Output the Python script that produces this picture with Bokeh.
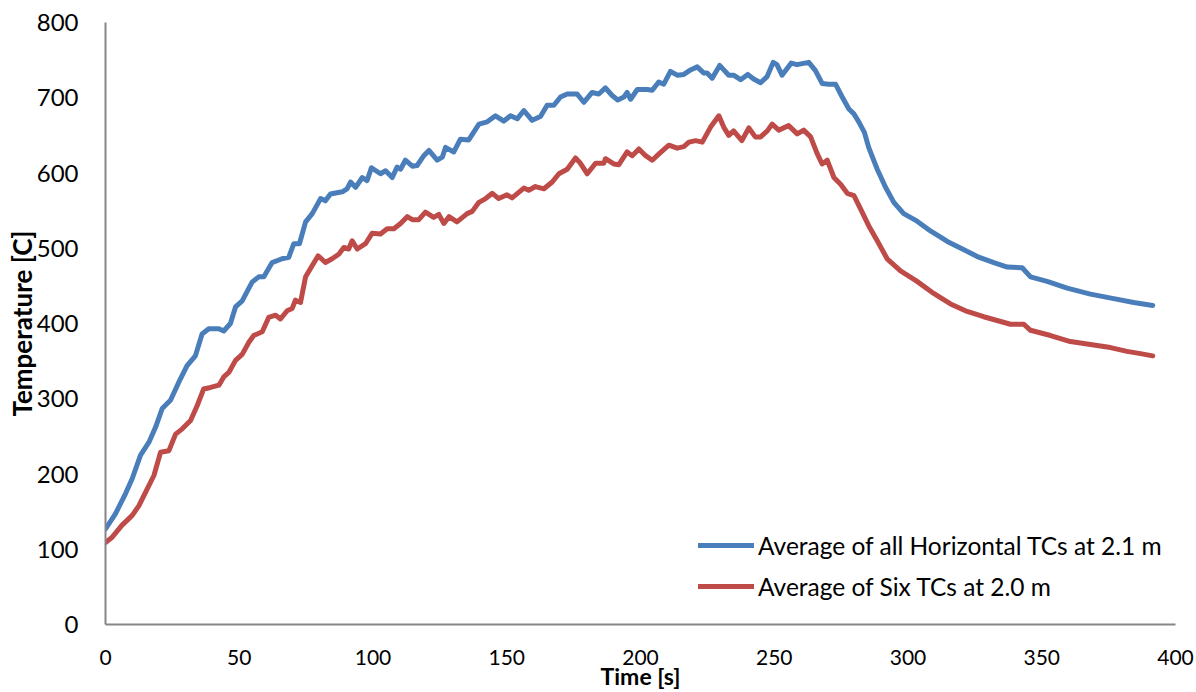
from bokeh.plotting import figure
from bokeh.models import Range1d, Legend, LegendItem, FixedTicker
from bokeh.embed import file_html
from bokeh.resources import INLINE

# Average of all horizontal thermocouples at 2.1 m
time_horizontal = [
    0, 3.7, 7.5, 10, 13.1, 16.2, 18.7, 21.2, 24.3, 27.4, 30.5, 33.6, 36.1, 38.6,
    42.4, 44.2, 46.7, 48.6, 51.1, 54.8, 57.3, 59.2, 62.3, 66, 68.5, 70.4, 72.5,
    74.8, 77.3, 80.4, 82.2, 84.1, 88.5, 90.3, 91.6, 93.5, 96, 97.8, 99.4,
    102.8, 104.7, 107.2, 109, 110.3, 112.1, 114.7, 116.5, 119, 120.9, 124, 125.9,
    127.1, 130.2, 132.7, 135.8, 139.6, 142.7, 145.8, 148.9, 151.4, 153.9, 156.4,
    159.5, 162.6, 165.1, 167.6, 170.1, 172.6, 176.3, 178.8, 181.9, 184.4, 186.9,
    189.4, 191.5, 193.8, 195, 196.3, 198.8, 202.5, 204.4, 206.8,
    208.7, 211.2, 213.7, 216.2, 218.7, 221.2, 223.6, 224.9, 226.8, 229.6, 233,
    234.8, 237.4, 240.1, 242.3, 244.9, 247.3, 249.6, 251, 252.9, 256.3, 258.5,
    262.9, 265.4, 267.9, 270.4, 272.9, 275.4, 277.9, 279.7, 281.6, 283.7, 285.3,
    288.5, 291.6, 294.7, 298.4, 303.4, 308.4, 314.7, 320.9, 325.9, 332.1, 337.1,
    342.7, 345.8, 352, 359.5, 368.2, 376.9, 384.4, 391.5,
]
temp_horizontal = [
    127, 147, 174, 194, 225, 242, 262, 287, 298, 322, 344, 357, 386, 393,
    393, 390, 400, 422, 430, 455, 462, 462, 481, 486, 488, 506, 506,
    535, 546, 566, 563, 572, 575, 579, 588, 581, 594, 590, 607,
    599, 603, 594, 608, 605, 617, 609, 610, 623, 630, 617, 621,
    634, 628, 645, 644, 665, 668, 676, 669, 676, 672, 683,
    670, 675, 690, 690, 701, 705, 705, 694, 707, 705, 713,
    703, 697, 701, 707, 698, 711, 711, 710, 721,
    718, 735, 730, 731, 737, 741, 733, 733, 726, 743, 730,
    730, 724, 731, 725, 720, 728, 747, 744, 730, 746, 744,
    747, 736, 719, 718, 718, 701, 685, 679, 668, 654, 634,
    605, 581, 561, 546, 536, 523, 509, 498, 489, 481, 475,
    474, 462, 456, 447, 439, 433, 428, 424,
]

# Average of six thermocouples at 2.0 m
time_six = [
    0, 2.5, 6.2, 10, 12.5, 15, 18.1, 20.6, 23.7, 26.2, 28.7, 31.8, 34.3, 36.7,
    39.3, 42.4, 44.2, 46.1, 48.6, 51.1, 53.6, 55.4, 58.6, 61, 63.6, 65.4, 67.9,
    69.8, 71, 72.9, 74.8, 77.3, 79.5, 82.2, 84.7, 87.2, 89.1, 90.9, 92.2, 94.1,
    97.2, 99.7,
    102.8, 105.3, 107.8, 110.3, 112.8, 114.7, 117.1, 119.6, 122.7, 124.6, 126.5,
    128.4, 131.4, 135.2, 137.1, 139.6, 142.1, 144.6, 147, 150.1, 152, 156.4,
    158.2, 160.7, 163.9, 167, 169.5, 172.6, 175.7, 177.3, 180.1, 183.2, 186.3,
    186.9, 190, 191.9, 195, 196.9, 199.4, 201.9, 204.4, 206.8,
    210.6, 213.7, 216.2, 218.1, 220.6, 223.1, 226.2, 229.3, 231.1, 233, 234.8,
    237.9, 240.5, 242.9, 244.9, 247.4, 249.2, 251.7, 255.4, 258.6, 261, 263.6,
    266, 267.9, 269.8, 272.3, 274.8, 277.3, 279.8, 282.3,
    285.3, 288.5, 292.2, 297.2, 303.4, 309.6, 315.9, 322.1, 328.3, 333.3, 338.3,
    343.3, 345.8, 353.3, 360.7, 368.2, 375.7, 381.9, 386.9, 391.5,
]
temp_six = [
    109, 116, 132, 145, 158, 176, 198, 229, 231, 253, 260, 271, 291, 313,
    315, 318, 329, 335, 351, 359, 375, 384, 389, 408, 411, 406, 417,
    420, 431, 428, 462, 477, 490, 481, 486, 492, 501, 499, 510, 499,
    506, 520,
    519, 526, 526, 533, 542, 538, 538, 548, 541, 545, 533,
    542, 535, 546, 549, 561, 566, 573, 566, 571, 567, 580,
    577, 582, 579, 588, 599, 605, 620, 614, 599, 613, 613,
    619, 612, 611, 628, 623, 632, 623, 617, 625,
    637, 633, 635, 641, 643, 641, 661, 676, 661, 650, 656,
    643, 660, 648, 648, 656, 665, 657, 663, 652, 657, 648,
    626, 612, 617, 594, 585, 573, 570, 552,
    530, 510, 486, 470, 456, 440, 426, 416, 409, 404, 399,
    399, 391, 384, 376, 372, 368, 363, 360, 357,
]

x_ticks = [0, 50, 100, 150, 200, 250, 300, 350, 400]
y_ticks = [0, 100, 200, 300, 400, 500, 600, 700, 800]

BLUE = "#4a7ebb"
RED = "#be4b48"
AXIS_GREY = "#868686"
FONT = "Lato"

p = figure(
    width=1196, height=692,
    x_range=Range1d(0, 400), y_range=Range1d(0, 800),
    output_backend="svg", toolbar_location=None,
    min_border_left=105, min_border_right=21,
    min_border_top=22, min_border_bottom=68,
    background_fill_color="white", border_fill_color="white",
    outline_line_color=None,
)

r_h = p.line(time_horizontal, temp_horizontal, line_color=BLUE, line_width=5,
             line_join="round", line_cap="round")
r_s = p.line(time_six, temp_six, line_color=RED, line_width=5,
             line_join="round", line_cap="round")

p.xgrid.visible = False
p.ygrid.visible = False

for ax in (p.xaxis[0], p.yaxis[0]):
    ax.axis_line_color = AXIS_GREY
    ax.axis_line_width = 2
    ax.major_tick_line_color = None
    ax.minor_tick_line_color = None
    ax.major_label_text_color = "black"
    ax.axis_label_text_color = "black"
    ax.axis_label_text_font_style = "bold"

p.xaxis.ticker = FixedTicker(ticks=x_ticks)
p.yaxis.ticker = FixedTicker(ticks=y_ticks)

p.xaxis.axis_label = "Time [s]"
p.xaxis.major_label_text_font = FONT
p.xaxis.major_label_text_font_size = "21px"
p.xaxis.major_label_standoff = 19
p.xaxis.axis_label_text_font = FONT
p.xaxis.axis_label_text_font_size = "23px"
p.xaxis.axis_label_standoff = -6

p.yaxis.axis_label = "Temperature [C]"
p.yaxis.major_label_text_font = FONT
p.yaxis.major_label_text_font_size = "24px"
p.yaxis.major_label_standoff = 21
p.yaxis.axis_label_text_font = FONT
p.yaxis.axis_label_text_font_size = "26px"
p.yaxis.axis_label_standoff = -4

legend = Legend(
    items=[
        LegendItem(label="Average of all Horizontal TCs at 2.1 m", renderers=[r_h]),
        LegendItem(label="Average of Six TCs at 2.0 m", renderers=[r_s]),
    ],
    location=(593, 23),
    orientation="vertical",
    padding=0, margin=0, spacing=11,
    glyph_width=56, glyph_height=30, label_height=30,
    label_standoff=4,
    label_text_font=FONT, label_text_font_size="24.5px", label_text_color="black",
    border_line_alpha=0, background_fill_alpha=0,
)
p.add_layout(legend, "center")

open("out.html", "w").write(file_html(p, INLINE))
